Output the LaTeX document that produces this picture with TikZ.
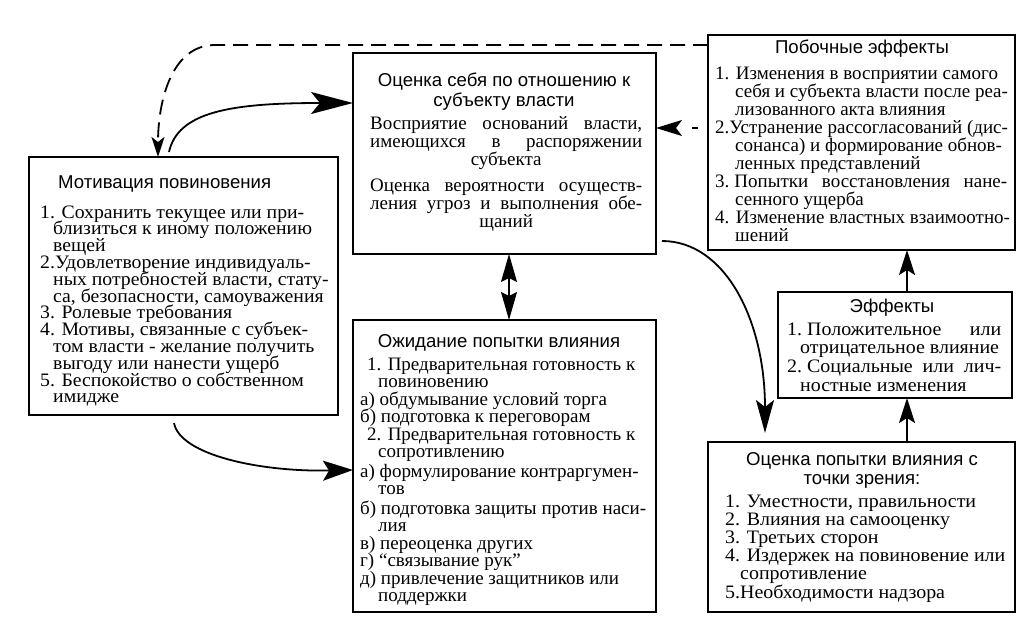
\documentclass[tikz,border=0pt]{standalone}
\usepackage{fontspec}
\setmainfont{Liberation Serif}
\newfontfamily\sansttl{Liberation Sans}
\newfontfamily\widerm{Liberation Serif}[FakeStretch=1.05]
\newfontfamily\widera{Liberation Serif}[FakeStretch=1.04]
\usetikzlibrary{arrows.meta}
\newcommand{\hind}{\hspace*{13pt}}
\newcommand{\txtbox}[3]{\parbox[t]{#1}{\raggedright\fontsize{19}{#2}\selectfont\lineskiplimit=-100pt\relax\lineskip=0pt\relax #3}}
\newcommand{\ttlbox}[3]{\parbox[t]{#1}{\centering\fontsize{18.6}{#2}\selectfont\lineskiplimit=-100pt\relax\lineskip=0pt\relax #3}}
\begin{document}
\begin{tikzpicture}[x=1pt,y=-1pt,
  box/.style={draw, line width=1.8pt, inner sep=0pt, outer sep=0pt, anchor=north west},
  ttl/.style={anchor=base, inner sep=0pt, font=\sansttl\fontsize{18.6}{19}\selectfont},
  txt/.style={anchor=base west, inner sep=0pt, font=\fontsize{19}{17.5}\selectfont},
  con/.style={line width=1.8pt},
]
\useasboundingbox (0,0) rectangle (1031,618);

% boxes
\node[box, minimum width=309pt, minimum height=258pt] (A) at (29,157) {};
\node[box, minimum width=303pt, minimum height=201pt] (B) at (353,53) {};
\node[box, minimum width=303pt, minimum height=292pt] (C) at (353,320) {};
\node[box, minimum width=307pt, minimum height=215pt] (D) at (708,35) {};
\node[box, minimum width=234pt, minimum height=106pt] (E) at (778,292) {};
\node[box, minimum width=307pt, minimum height=170pt] (F) at (708,442) {};

% box A
\node[ttl, anchor=base west] (At) at (58,188) {Мотивация повиновения};
\node[txt] (Ab) at (40,218) {\txtbox{400pt}{16.8}{\widera
1. Сохранить текущее или при-\\
\hind близиться к иному положению\\
\hind вещей\\
2.Удовлетворение индивидуаль-\\
\hind ных потребностей власти, стату-\\
\hind са, безопасности, самоуважения\\
3. Ролевые требования\\
4. Мотивы, связанные с субъек-\\
\hind том власти - желание получить\\
\hind выгоду или нанести ущерб\\
5. Беспокойство о собственном\\
\hind имидже}};

% box B
\node[ttl] (Bt) at (504,87) {\ttlbox{300pt}{19.5}{%
Оценка себя по отношению к\\субъекту власти}};
\node[txt] (Bb) at (370,129) {\txtbox{300pt}{18}{%
\makebox[272pt][s]{Восприятие оснований власти,}\\
\makebox[272pt][s]{имеющихся в распоряжении}\\
\makebox[272pt]{субъекта}\\[8pt]
\makebox[272pt][s]{Оценка вероятности осуществ-}\\
\makebox[272pt][s]{ления угроз и выполнения обе-}\\
\makebox[272pt]{щаний}}};

% box C
\node[ttl] (Ct) at (499,347) {Ожидание попытки влияния};
\node[txt] (Cb) at (360,370) {\txtbox{400pt}{17.5}{%
\hspace*{7pt}1. Предварительная готовность к\\
\hspace*{18pt}повиновению\\
а) обдумывание условий торга\\
б) подготовка к переговорам\\
\hspace*{7pt}2. Предварительная готовность к\\
\hspace*{18pt}сопротивлению\\[2pt]
а) формулирование контраргумен-\\
\hspace*{18pt}тов\\[2pt]
б) подготовка защиты против наси-\\
\hspace*{18pt}лия\\
в) переоценка других\\
г) “связывание рук”\\
д) привлечение защитников или\\
\hspace*{18pt}поддержки}};

% box D
\node[ttl] (Dt) at (862,54) {Побочные эффекты};
\node[txt] (Db) at (715,79) {\txtbox{400pt}{18.1}{%
1. Изменения в восприятии самого\\
\hspace*{20pt}себя и субъекта власти после реа-\\
\hspace*{20pt}лизованного акта влияния\\
2.Устранение рассогласований (дис-\\
\hspace*{20pt}сонанса) и формирование обнов-\\
\hspace*{20pt}ленных представлений\\
\makebox[292pt][s]{3.\hspace{5pt}Попытки восстановления нане-}\\
\hspace*{20pt}сенного ущерба\\
4. Изменение властных взаимоотно-\\
\hspace*{20pt}шений}};

% box E
\node[ttl] (Et) at (892,312) {Эффекты};
\node[txt] (Eb) at (787,335) {\txtbox{300pt}{18.7}{\widerm
\makebox[214pt][s]{1.\hspace{5pt}Положительное или}\\
\hind отрицательное влияние\\
\makebox[214pt][s]{2.\hspace{5pt}Социальные или лич-}\\
\hind ностные изменения}};

% box F
\node[ttl] (Ft) at (862,465) {\ttlbox{300pt}{19}{%
Оценка попытки влияния с\\точки зрения:}};
\node[txt] (Fb) at (725,507) {\txtbox{300pt}{18.2}{\widerm
1. Уместности, правильности\\
2. Влияния на самооценку\\
3. Третьих сторон\\
4. Издержек на повиновение или\\
\hspace*{15pt}сопротивление\\
5.Необходимости надзора}};

% connectors
\draw[con, dash pattern=on 15pt off 8pt, -{Stealth[length=20pt,width=13pt,inset=5pt]}]
  ([yshift=-10pt]D.north west) -- (215,45) .. controls (172,45) and (158,100) .. ([xshift=129pt]A.north west);
\draw[con, -{Stealth[length=42pt,width=22pt,inset=9pt]}]
  ([xshift=140pt,yshift=5pt]A.north west) .. controls (178,112) and (230,103) .. ([yshift=-50pt]B.north west);
\draw[con, -{Stealth[length=30pt,width=20pt,inset=6pt]}]
  ([xshift=145pt,yshift=-8pt]A.south west) .. controls (180,455) and (260,472) .. ([yshift=-150pt]C.north west);
\draw[con, line width=1.5pt, {Stealth[length=28pt,width=16pt,inset=4pt]}-{Stealth[length=28pt,width=16pt,inset=4pt]}]
  ([xshift=156pt]B.south west) -- ([xshift=156pt]C.north west);
\draw[con, dash pattern=on 0pt off 10pt on 6pt off 30pt, -{Stealth[length=26pt,width=16pt,inset=6pt]}]
  ([yshift=-93pt]D.north west) -- ([yshift=-75pt]B.north east);
\draw[con, -{Stealth[length=33pt,width=18pt,inset=7pt]}]
  ([xshift=6pt,yshift=13pt]B.south east) .. controls (725,241) and (765,320) .. ([xshift=57pt,yshift=9pt]F.north west);
\draw[con, -{Stealth[length=25pt,width=16pt,inset=5pt]}]
  ([xshift=199pt]F.north west) -- ([xshift=129pt]E.south west);
\draw[con, -{Stealth[length=25pt,width=16pt,inset=5pt]}]
  ([xshift=129pt]E.north west) -- ([xshift=199pt]D.south west);
\end{tikzpicture}
\end{document}
